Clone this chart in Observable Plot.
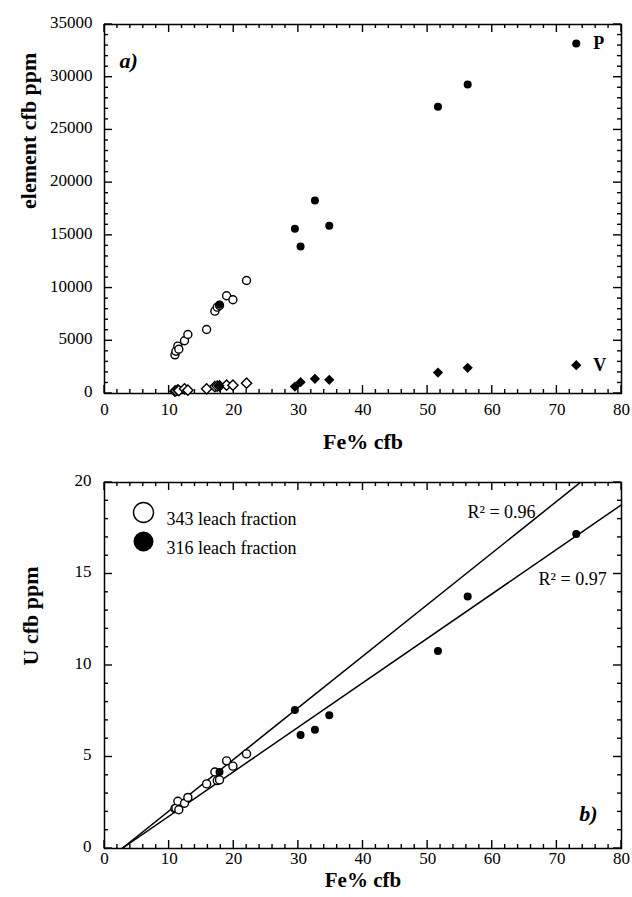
<!DOCTYPE html>
<html>
<head>
<meta charset="utf-8">
<script src="https://cdn.jsdelivr.net/npm/d3@7"></script>
<script src="https://cdn.jsdelivr.net/npm/@observablehq/plot@0.6"></script>
<style>
  html, body { margin: 0; padding: 0; background: #fff; }
  #chart { width: 632px; }
  #chart svg { display: block; font-family: "Liberation Serif", "Times New Roman", serif !important; }
  #chart svg text { font-family: "Liberation Serif", "Times New Roman", serif !important; }
</style>
</head>
<body>
<div id="chart"></div>
<script>
// ---- Data: leach fraction 343 (open symbols) ----
const fe343 = [10.9, 11.05, 11.35, 11.5, 12.38, 12.9, 15.8, 17.08, 17.45, 17.8, 18.89, 19.87, 21.98];
const p343  = [3670, 4010, 4490, 4200, 5000, 5600, 6070, 7810, 8190, 8350, 9270, 8890, 10720];
const v343  = [220, 260, 350, 280, 445, 315, 445, 660, 700, 720, 790, 790, 980];
const u343  = [2.18, 2.2, 2.58, 2.12, 2.47, 2.79, 3.53, 4.18, 3.71, 3.75, 4.79, 4.5, 5.17];

// ---- Data: leach fraction 316 (filled symbols) ----
const fe316 = [17.8, 29.46, 30.34, 32.56, 34.78, 51.6, 56.2, 73.0];
const p316  = [8450, 15630, 13950, 18310, 15910, 27200, 29300, 33200];
const v316  = [730, 660, 1070, 1390, 1300, 1990, 2440, 2690];
const u316  = [4.18, 7.57, 6.2, 6.49, 7.28, 10.79, 13.77, 17.19];

// ---- Regression fits (U vs Fe) ----
const fitFraction = ["343", "316"];
const fitSlope = [0.282, 0.243];
const fitIntercept = [-0.761, -0.656];
const fitR2 = ["0.96", "0.97"];
const r2LabelFe = [66.7, 77.7];
const r2LabelU = [18.4, 14.7];

// ---- Ticks and labels ----
const xTicks = [0, 10, 20, 30, 40, 50, 60, 70, 80];
const xMinorTicks = d3.range(0, 81, 2);
const yTicksTop = [0, 5000, 10000, 15000, 20000, 25000, 30000, 35000];
const yMinorTicksTop = d3.range(0, 35001, 1000);
const yTicksBottom = [0, 5, 10, 15, 20];
const yMinorTicksBottom = d3.range(0, 21, 1);
const legendLabels = ["343 leach fraction", "316 leach fraction"];
const seriesNames = ["P", "V"];

const rows343 = fe343.map((fe, i) => ({fe, p: p343[i], v: v343[i], u: u343[i]}));
const rows316 = fe316.map((fe, i) => ({fe, p: p316[i], v: v316[i], u: u316[i]}));
const fitLines = fitFraction.flatMap((f, i) => {
  const x0 = -fitIntercept[i] / fitSlope[i];
  return [x0, 80].map(fe => ({fraction: f, fe, u: fitSlope[i] * fe + fitIntercept[i]}));
});
const r2Labels = fitR2.map((r, i) => ({text: "R\u00B2 = " + r, fe: r2LabelFe[i], u: r2LabelU[i]}));

const FONT = "Liberation Serif";

// inward ticks on all four sides
function innerTicks(xMaj, xMin, yMaj, yMin) {
  return (index, scales, values, dims) => {
    const {x, y} = scales;
    const L = dims.marginLeft, R = dims.width - dims.marginRight;
    const T = dims.marginTop, B = dims.height - dims.marginBottom;
    const g = d3.create("svg:g").attr("stroke", "#000").attr("stroke-width", 1.4);
    const add = (x1, y1, x2, y2) => g.append("line").attr("x1", x1).attr("y1", y1).attr("x2", x2).attr("y2", y2);
    for (const v of xMin) {
      const len = xMaj.includes(v) ? 8 : 4;
      const px = x(v);
      add(px, B, px, B - len);
      add(px, T, px, T + len);
    }
    for (const v of yMin) {
      const len = yMaj.includes(v) ? 8 : 4;
      const py = y(v);
      add(L, py, L + len, py);
      add(R, py, R - len, py);
    }
    return g.node();
  };
}

const axisStyle = {fontSize: 17, fontFamily: FONT, fill: "#000"};

// ---------------- Top panel (a) ----------------
const topPlot = Plot.plot({
  width: 632, height: 460,
  marginLeft: 104, marginRight: 11, marginTop: 24, marginBottom: 67,
  x: {domain: [0, 80]},
  y: {domain: [0, 35000]},
  style: {fontFamily: FONT, background: "#fff", color: "#000"},
  marks: [
    Plot.axisX({ticks: xTicks, tickSize: 0, tickPadding: 9, tickFormat: d3.format("d"), label: null, ...axisStyle}),
    Plot.axisY({ticks: yTicksTop, tickSize: 0, tickPadding: 12, tickFormat: d3.format("d"), label: null, dy: -2, ...axisStyle}),
    innerTicks(xTicks, xMinorTicks, yTicksTop, yMinorTicksTop),
    Plot.frame({stroke: "#000", strokeWidth: 1.5}),
    Plot.dot(rows343, {x: "fe", y: "p", r: 4, stroke: "#000", strokeWidth: 1.4, fill: "#fff"}),
    Plot.dot(rows343, {x: "fe", y: "v", symbol: "diamond2", r: 4.6, stroke: "#000", strokeWidth: 1.4, fill: "#fff"}),
    Plot.dot(rows316, {x: "fe", y: "p", r: 4, fill: "#000"}),
    Plot.dot(rows316, {x: "fe", y: "v", symbol: "diamond2", r: 4.6, fill: "#000"}),
    Plot.text(rows316, Plot.selectLast({x: "fe", y: "p", text: () => seriesNames[0], dx: 17, textAnchor: "start", fontSize: 18, fontWeight: "bold", fontFamily: FONT, fill: "#000"})),
    Plot.text(rows316, Plot.selectLast({x: "fe", y: "v", text: () => seriesNames[1], dx: 17, textAnchor: "start", fontSize: 18, fontWeight: "bold", fontFamily: FONT, fill: "#000"})),
    Plot.text(["a)"], {frameAnchor: "top-left", dx: 15, dy: 28, textAnchor: "start", fontSize: 22, fontWeight: "bold", fontStyle: "italic", fontFamily: FONT, fill: "#000"}),
    Plot.text(["Fe% cfb"], {frameAnchor: "bottom", dy: 55, fontSize: 22, fontWeight: "bold", fontFamily: FONT, fill: "#000"}),
    Plot.text(["element cfb ppm"], {frameAnchor: "left", dx: -76, rotate: -90, fontSize: 22, fontWeight: "bold", fontFamily: FONT, fill: "#000"})
  ]
});

// ---------------- Bottom panel (b) ----------------
const bottomPlot = Plot.plot({
  width: 632, height: 437,
  marginLeft: 104, marginRight: 11, marginTop: 22, marginBottom: 49,
  x: {domain: [0, 80]},
  y: {domain: [0, 20]},
  style: {fontFamily: FONT, background: "#fff", color: "#000"},
  marks: [
    Plot.axisX({ticks: xTicks, tickSize: 0, tickPadding: 3, tickFormat: d3.format("d"), label: null, ...axisStyle}),
    Plot.axisY({ticks: yTicksBottom, tickSize: 0, tickPadding: 13, tickFormat: d3.format("d"), label: null, dy: -2, ...axisStyle}),
    innerTicks(xTicks, xMinorTicks, yTicksBottom, yMinorTicksBottom),
    Plot.frame({stroke: "#000", strokeWidth: 1.5}),
    Plot.line(fitLines, {x: "fe", y: "u", z: "fraction", stroke: "#000", strokeWidth: 1.5, clip: true}),
    Plot.dot(rows343, {x: "fe", y: "u", r: 4, stroke: "#000", strokeWidth: 1.4, fill: "#fff"}),
    Plot.dot(rows316, {x: "fe", y: "u", r: 4, fill: "#000"}),
    Plot.text(r2Labels, {x: "fe", y: "u", text: "text", textAnchor: "end", fontSize: 18, fontFamily: FONT, fill: "#000"}),
    // legend
    Plot.dot([legendLabels[0]], {frameAnchor: "top-left", dx: 39, dy: 30, r: 10, stroke: "#000", strokeWidth: 1.4, fill: "#fff"}),
    Plot.dot([legendLabels[1]], {frameAnchor: "top-left", dx: 39, dy: 59, r: 10, fill: "#000"}),
    Plot.text([legendLabels[0]], {frameAnchor: "top-left", dx: 62, dy: 30, textAnchor: "start", fontSize: 18, fontFamily: FONT, fill: "#000"}),
    Plot.text([legendLabels[1]], {frameAnchor: "top-left", dx: 62, dy: 59, textAnchor: "start", fontSize: 18, fontFamily: FONT, fill: "#000"}),
    Plot.text(["b)"], {frameAnchor: "bottom-right", dx: -24, dy: -28, textAnchor: "end", fontSize: 22, fontWeight: "bold", fontStyle: "italic", fontFamily: FONT, fill: "#000"}),
    Plot.text(["Fe% cfb"], {frameAnchor: "bottom", dy: 38, fontSize: 21, fontWeight: "bold", fontFamily: FONT, fill: "#000"}),
    Plot.text(["U cfb ppm"], {frameAnchor: "left", dx: -74, rotate: -90, fontSize: 22, fontWeight: "bold", fontFamily: FONT, fill: "#000"})
  ]
});

const chart = document.getElementById("chart");
chart.appendChild(topPlot);
chart.appendChild(bottomPlot);
</script>
</body>
</html>
